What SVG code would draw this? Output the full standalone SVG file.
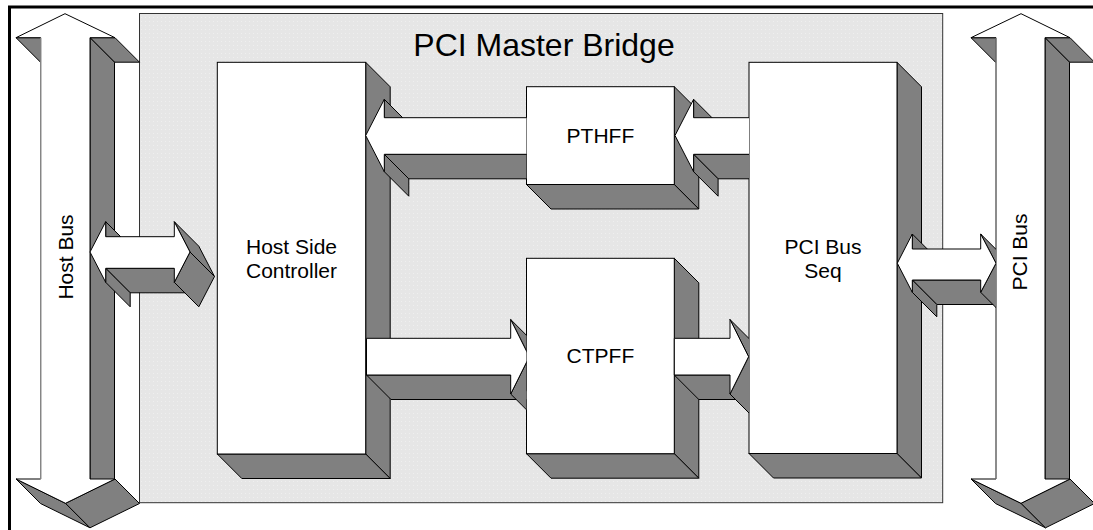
<svg xmlns="http://www.w3.org/2000/svg" width="1093" height="530" viewBox="0 0 1093 530">
<style>
.g{fill:#808080;stroke:#000;stroke-width:1;stroke-linejoin:miter}
.w{fill:#fff;stroke:#000;stroke-width:1}
.t{font-family:"Liberation Sans",Arial,Helvetica,sans-serif;fill:#000;text-anchor:middle}
.lbl{font-size:21px}
</style>
<defs>
<pattern id="dots" width="4" height="4" patternUnits="userSpaceOnUse">
<rect width="4" height="4" fill="#e6e6e6"/>
<rect x="1" y="1" width="1" height="1" fill="#efefef"/>
</pattern>
<clipPath id="cA"><rect x="300" y="0" width="226.5" height="530"/></clipPath>
<clipPath id="cB"><rect x="600" y="0" width="149" height="530"/></clipPath>
<clipPath id="cF"><rect x="850" y="0" width="146" height="530"/></clipPath>
</defs>
<rect x="9.5" y="7" width="1110" height="600" fill="#fff" stroke="#000" stroke-width="3"/>
<g id="bridge">
<rect x="139.5" y="13.5" width="803.2" height="489.2" fill="url(#dots)" stroke="#333" stroke-width="1"/>
<text class="t" x="544" y="56" font-size="32">PCI Master Bridge</text>
</g>
<g id="host-bus">
<polygon class="g" points="16,37.7 40.7,37.7 65.2,62.2 40.5,62.2"/>
<polygon class="g" points="90,37.7 115,37.7 139.5,62.2 114.5,62.2"/>
<polygon class="g" points="90,37.7 114.5,62.2 114.5,503.5 90,479"/>
<polygon class="g" points="16,479 65.5,503.3 90,527.8 40.5,503.5"/>
<polygon class="g" points="65.5,503.3 115,479 139.5,503.5 90,527.8"/>
<polygon class="w" points="65,13.7 115,37.7 90,37.7 90,479 115,479 65.5,503.3 16,479 40.7,479 40.7,37.7 16,37.7"/>
<line x1="40.7" y1="38" x2="40.7" y2="479" stroke="#999" stroke-width="1"/>
<text class="t lbl" transform="translate(73,257) rotate(-90)">Host Bus</text>
</g>
<g id="pci-bus">
<polygon class="g" points="971,37.7 996,37.7 1020.5,62.2 995.5,62.2"/>
<polygon class="g" points="1045,37.7 1070,37.7 1094.5,62.2 1069.5,62.2"/>
<polygon class="g" points="1045,37.7 1069.5,62.2 1069.5,503.5 1045,479"/>
<polygon class="g" points="971,479 1021,503.3 1045.5,527.8 995.5,503.5"/>
<polygon class="g" points="1021,503.3 1070,479 1094.5,503.5 1045.5,527.8"/>
<polygon class="w" points="1021,13.7 1070,37.7 1045,37.7 1045,479 1070,479 1021,503.3 971,479 996,479 996,37.7 971,37.7"/>
<line x1="996" y1="38" x2="996" y2="479" stroke="#999" stroke-width="1"/>
<text class="t lbl" transform="translate(1027,252) rotate(-90)">PCI Bus</text>
</g>
<g id="host-side-controller">
<polygon class="g" points="365.7,62.3 390.2,86.8 390.2,478.5 365.7,454"/>
<polygon class="g" points="217.3,454 365.7,454 390.2,478.5 241.8,478.5"/>
<rect class="w" x="217.3" y="62.3" width="148.4" height="391.7"/>
<text class="t lbl" x="291.5" y="254">Host Side</text>
<text class="t lbl" x="291.5" y="278">Controller</text>
</g>
<g id="pthff">
<polygon class="g" points="674.3,86.7 698.8,111.2 698.8,209 674.3,184.5"/>
<polygon class="g" points="526.5,184.5 674.3,184.5 698.8,209 551,209"/>
<rect class="w" x="526.5" y="86.7" width="147.8" height="97.8"/>
<text class="t lbl" x="600.4" y="143">PTHFF</text>
</g>
<g id="ctpff">
<polygon class="g" points="674.3,258.3 698.8,282.8 698.8,478.2 674.3,453.7"/>
<polygon class="g" points="526.5,453.7 674.3,453.7 698.8,478.2 551,478.2"/>
<rect class="w" x="526.5" y="258.3" width="147.8" height="195.4"/>
<text class="t lbl" x="600.4" y="363">CTPFF</text>
</g>
<g id="pci-bus-seq">
<polygon class="g" points="897,62.3 921.5,86.8 921.5,478 897,453.5"/>
<polygon class="g" points="749,453.5 897,453.5 921.5,478 773.5,478"/>
<rect class="w" x="749" y="62.3" width="148" height="391.2"/>
<text class="t lbl" x="823" y="254">PCI Bus</text>
<text class="t lbl" x="823" y="278">Seq</text>
</g>
<g id="connectors">
<g id="host-bus-to-controller">
<polygon class="g" points="174.3,221.7 190,252 214.5,276.5 198.8,246.2"/>
<polygon class="g" points="105.7,268.3 174.3,268.3 198.8,292.8 130.2,292.8"/>
<polygon class="g" points="190,252 174.3,282.3 198.8,306.8 214.5,276.5"/>
<polygon class="g" points="105.7,268.3 105.7,282.3 130.2,306.8 130.2,292.8"/>
<polygon class="g" points="105.7,221.7 105.7,236.7 130.2,261.2 130.2,246.2"/>
<polygon class="w" points="90,252 105.7,221.7 105.7,236.7 174.3,236.7 174.3,221.7 190,252 174.3,282.3 174.3,268.3 105.7,268.3 105.7,282.3"/>
</g>
<g id="pthff-to-controller" clip-path="url(#cA)">
<polygon class="g" points="384.3,154.3 530,154.3 554.8,178.8 408.8,178.8"/>
<polygon class="g" points="384.3,154.3 384.3,171.7 408.8,196.2 408.8,178.8"/>
<polygon class="g" points="384.3,99.3 384.3,117.7 408.8,142.2 408.8,123.8"/>
<polygon class="w" points="365.7,135.5 384.3,99.3 384.3,117.7 530,117.7 530,154.3 384.3,154.3 384.3,171.7"/>
</g>
<g id="controller-to-ctpff" clip-path="url(#cA)">
<polygon class="g" points="366.5,375 510.7,375 535.2,399.5 391,399.5"/>
<polygon class="g" points="510.7,319.5 529.3,356.7 553.8,381.2 535.2,344"/>
<polygon class="g" points="529.3,356.7 510.7,394 535.2,418.5 553.8,381.2"/>
<polygon class="w" points="366.5,338.3 510.7,338.3 510.7,319.5 529.3,356.7 510.7,394 510.7,375 366.5,375"/>
</g>
<g id="seq-to-pthff" clip-path="url(#cB)">
<polygon class="g" points="693.6,154.3 760,154.3 784.5,178.8 718.1,178.8"/>
<polygon class="g" points="693.6,154.3 693.6,171.7 718.1,196.2 718.1,178.8"/>
<polygon class="g" points="693.6,99.3 693.6,117.7 718.1,142.2 718.1,123.8"/>
<polygon class="w" points="675,135.5 693.6,99.3 693.6,117.7 760,117.7 760,154.3 693.6,154.3 693.6,171.7"/>
</g>
<g id="ctpff-to-seq" clip-path="url(#cB)">
<polygon class="g" points="674.3,375 730,375 754.5,399.5 698.8,399.5"/>
<polygon class="g" points="730,319.5 748.6,356.7 773.1,381.2 754.5,344"/>
<polygon class="g" points="748.6,356.7 730,394 754.5,418.5 773.1,381.2"/>
<polygon class="w" points="674.3,338.3 730,338.3 730,319.5 748.6,356.7 730,394 730,375 674.3,375"/>
</g>
<g id="seq-to-pci-bus" clip-path="url(#cF)">
<polygon class="g" points="980.7,234 996,263.2 1020.5,287.7 1005.2,258.5"/>
<polygon class="g" points="912.3,280 980.7,280 1005.2,304.5 936.8,304.5"/>
<polygon class="g" points="996,263.2 980.7,292.3 1005.2,316.8 1020.5,287.7"/>
<polygon class="g" points="912.3,280 912.3,292.3 936.8,316.8 936.8,304.5"/>
<polygon class="g" points="912.3,234 912.3,249 936.8,273.5 936.8,258.5"/>
<polygon class="w" points="897.3,263.2 912.3,234 912.3,249 980.7,249 980.7,234 996,263.2 980.7,292.3 980.7,280 912.3,280 912.3,292.3"/>
</g>
</g>
</svg>
